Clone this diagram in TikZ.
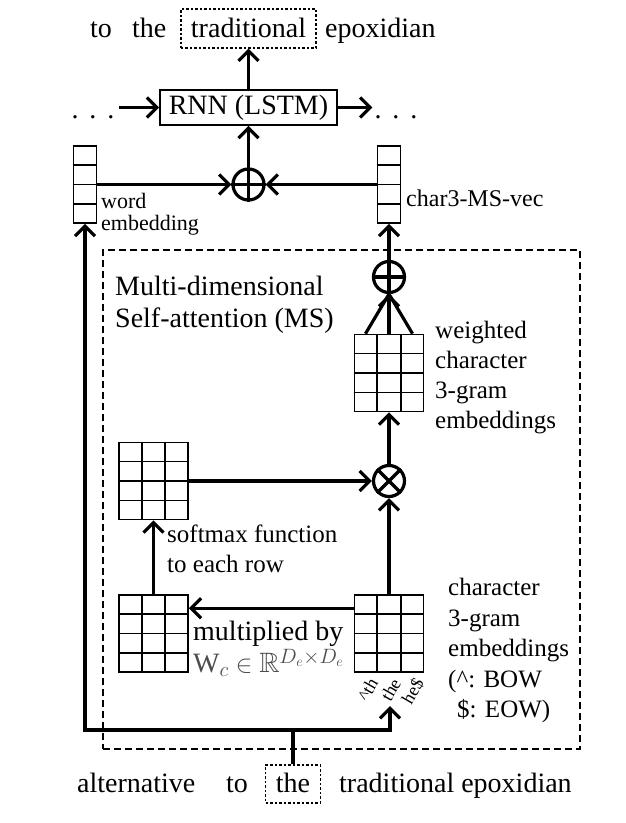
\documentclass[tikz,border=0pt]{standalone}
\usepackage{amsmath,amssymb}
\usepackage{fontspec}
\setmainfont{Liberation Serif}
\usetikzlibrary{arrows.meta, calc}
\newcommand{\bigfont}{\fontsize{28}{32}\selectfont}
\newcommand{\midfont}{\fontsize{25}{30}\selectfont}
\newcommand{\spdots}{.\hspace{11pt}.\hspace{11pt}.}
\definecolor{wcolor}{gray}{0.3}

\begin{document}
\begin{tikzpicture}[
      % GLOBAL CFG
      x=1pt, y=-1pt,
      font=\bigfont,
      >={Straight Barb[length=10pt,width=20pt]},
      % Styles
      word/.style={% For the words of the sentence
        inner sep=0pt,
        anchor=base west
      },
      target/.style={% For the current word
        draw,
        dash pattern=on 2.5pt off 2pt,
        line width=1.2pt,
        inner xsep=10pt,
        inner ysep=0pt,
        text height=28pt,
        text depth=11pt,
        anchor=base
      },
      cell/.style={% For the RNN
        draw,
        line width=1.6pt,
        minimum width=177pt,
        minimum height=35pt,
        inner sep=0pt
      },
      op/.style={% For oplus and otimes
        circle,
        draw,
        line width=3.2pt,
        minimum size=31pt,
        inner sep=0pt
      },
      vec/.style={% For vectors
        draw,
        line width=1.6pt,
        minimum width=23pt,
        minimum height=77pt,
        inner sep=0pt
      },
      mat/.style={% For matrices
        draw,
        line width=1.6pt,
        minimum width=69pt,
        minimum height=77pt,
        inner sep=0pt
      },
      lbl/.style={% For the notes
        align=left,
        anchor=north west,
        inner sep=0pt
      },
      gram/.style={% For the character 3-grams
        rotate=60,
        anchor=east,
        inner sep=1pt,
        font=\fontsize{18}{18}\selectfont
      },
      arrowflow/.style={% Arrows
        line width=3.2pt,
        ->
      }
      ]
      \useasboundingbox (0,0) rectangle (626,823);

      % Sentence on top
      \node [word] (oTo) at (90,37) {to};
      \node [word] (oThe) at (132,37) {the};
      \node [target] (oTrad) at (248.5,37) {traditional};
      \node [word] (oEpox) at (325,37) {epoxidian};

      % The RNN
      \node [cell] (rnn) at (248.5,107.5) {RNN (LSTM)};
      \node [anchor=base, inner xsep=4pt] (dotsL) at (93,118) {\spdots};
      \node [anchor=base, inner xsep=2pt] (dotsR) at (396,118) {\spdots};
      \draw [arrowflow] (dotsL.east |- rnn) -- (rnn);
      \draw [arrowflow] (rnn) -- (rnn -| dotsR.west);
      \draw [arrowflow] (rnn) -- (oTrad);

      % Word vector and char vector
      \node [op] (sumW) at (248.5,184.5) {};
      \draw [line width=3.2pt] (sumW.north) -- (sumW.south) (sumW.west) -- (sumW.east);
      \node [vec] (wvec) at (85,184.5) {};
      \node [vec] (cvec) at (389,184.5) {};
      \node [lbl, font=\fontsize{22}{22}\selectfont] (wlbl) at (101,193) {word\\embedding};
      \node [word, font=\fontsize{24}{24}\selectfont] (clbl) at (406,206) {char3-MS-vec};
      \draw [arrowflow] (wvec) -- (sumW);
      \draw [arrowflow] (cvec) -- (sumW);
      \draw [arrowflow] (sumW) -- (rnn);

      % The MS block
      \node [draw, dash pattern=on 7pt off 4pt, line width=1.2pt,
             minimum width=477pt, minimum height=499pt] (ms) at (341.5,499.5) {};
      \node [lbl] (mslbl) at (115,276) {Multi-dimensional\\Self-attention (MS)};

      \node [op] (sumC) at (389,277) {};
      \draw [line width=3.2pt] (sumC.north) -- (sumC.south) (sumC.west) -- (sumC.east);
      \node [mat] (wmat) at (389,373) {};
      \node [lbl, font=\midfont] (wmlbl) at (435,321) {weighted\\character\\3-gram\\embeddings};
      \draw [arrowflow] (sumC) -- (cvec);
      \draw [arrowflow] (wmat) -- (sumC);
      \draw [line width=3.2pt] ($(wmat.north west)!0.1667!(wmat.north east)$) -- (sumC.south);
      \draw [line width=3.2pt] ($(wmat.north west)!0.8333!(wmat.north east)$) -- (sumC.south);

      \node [op] (prod) at (389,481) {};
      \draw [line width=3.2pt] (prod.north west) -- (prod.south east) (prod.north east) -- (prod.south west);
      \node [mat] (smat) at (153.5,481) {};
      \node [lbl, font=\midfont] (smlbl) at (167,525) {softmax function\\to each row};
      \draw [arrowflow] (smat) -- (prod);
      \draw [arrowflow] (prod) -- (wmat);

      \node [mat] (mmat) at (153.5,633.5) {};
      \node [mat] (cmat) at (389,633.5) {};
      \node [lbl] (mlbl) at (193,621) {multiplied by\\{\color{wcolor}$\mathrm{W}_c\in\mathbb{R}^{D_e\times D_e}$}};
      \node [lbl, font=\fontsize{25}{30.5}\selectfont] (clbl) at (448,578)
            {character\\3-gram\\embeddings\\(\textasciicircum: BOW\\\hspace*{9pt}\$: EOW)};
      \draw [arrowflow] (mmat) -- (smat);
      \draw [arrowflow] (cmat) -- (prod);
      \draw [arrowflow] ([yshift=-14pt]cmat.north west) -- ([yshift=-14pt]mmat.north east);

      % Character 3-grams
      \node [gram] (gA) at (374,679) {\textasciicircum th};
      \node [gram] (gB) at (397,679) {the};
      \node [gram] (gC) at (420,679) {he\$};

      % Grid lines
      \foreach \m in {wmat,smat,mmat,cmat}{
        \foreach \f in {0.3333,0.6667}
          \draw [line width=1.6pt] ($(\m.north west)!\f!(\m.north east)$) -- ($(\m.south west)!\f!(\m.south east)$);
      }
      \foreach \m in {wmat,smat,mmat,cmat,wvec,cvec}{
        \foreach \f in {0.25,0.5,0.75}
          \draw [line width=1.6pt] ($(\m.north west)!\f!(\m.south west)$) -- ($(\m.north east)!\f!(\m.south east)$);
      }

      % Sentence at the bottom
      \node [word] (iAlt) at (77,792) {alternative};
      \node [word] (iTo) at (226,792) {to};
      \node [target, text height=27pt] (iThe) at (293,792) {the};
      \node [word] (iTrad) at (339,792) {traditional epoxidian};
      \coordinate (fork) at (293,730);
      \coordinate (cin) at (390,706);
      \draw [arrowflow] (iThe) -- (fork) -| (wvec);
      \draw [arrowflow] (fork) -| (cin);

    \end{tikzpicture}
\end{document}
